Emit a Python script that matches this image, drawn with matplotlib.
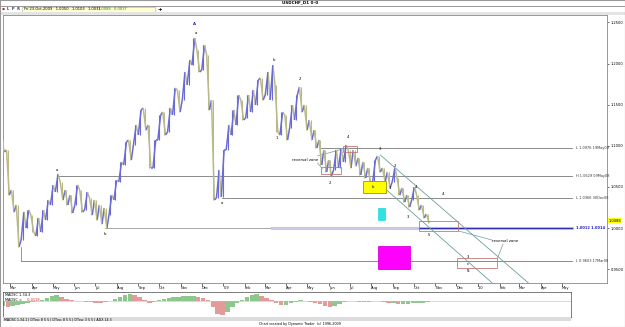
import matplotlib
matplotlib.use('Agg')
import matplotlib.pyplot as plt
import matplotlib.dates as mdates
from matplotlib.collections import LineCollection
from matplotlib.patches import Rectangle
import pandas as pd

# weekly price swings (USDCHF daily, shown as weekly swings)
weeks = pd.date_range('2008-02-22', '2009-10-23', freq='W-FRI')
week_high = [1.1071, 1.0949, 1.0462, 1.0280, 1.0195, 1.0219, 1.0158, 1.0122, 1.0219, 1.0341,
             1.0523, 1.0657, 1.0560, 1.0462, 1.0401, 1.0523, 1.0462, 1.0438, 1.0365, 1.0341,
             1.0280, 1.0243, 1.0401, 1.0584, 1.0803, 1.1046, 1.1071, 1.1253, 1.1436, 1.1460,
             1.1253, 1.1071, 1.1375, 1.1411, 1.1460, 1.1703, 1.1679, 1.1898, 1.2044, 1.2311,
             1.2165, 1.2226, 1.2105, 1.1557, 1.0706, 1.0949, 1.1253, 1.1436, 1.1618, 1.1557,
             1.1618, 1.1679, 1.1800, 1.1825, 1.1898, 1.1983, 1.1740, 1.1411, 1.1375, 1.1496,
             1.1618, 1.1715, 1.1496, 1.1314, 1.1192, 1.1071, 1.0949, 1.0827, 1.0949, 1.0973,
             1.1010, 1.0949, 1.0949, 1.0852, 1.0803, 1.0730, 1.0827, 1.0876, 1.0730, 1.0681,
             1.0730, 1.0608, 1.0487, 1.0401, 1.0499, 1.0401, 1.0280, 1.0170]
week_low = [1.0925, 1.0401, 1.0195, 0.9769, 0.9854, 1.0000, 0.9951, 0.9903, 0.9951, 1.0097,
            1.0280, 1.0438, 1.0341, 1.0280, 1.0182, 1.0280, 1.0195, 1.0219, 1.0158, 1.0097,
            1.0049, 1.0000, 1.0158, 1.0341, 1.0560, 1.0766, 1.0827, 1.1010, 1.1131, 1.1192,
            1.0730, 1.0730, 1.1071, 1.1131, 1.1168, 1.1375, 1.1411, 1.1557, 1.1740, 1.1983,
            1.1898, 1.1922, 1.1436, 1.0341, 1.0365, 1.0377, 1.0949, 1.1131, 1.1253, 1.1314,
            1.1338, 1.1411, 1.1496, 1.1557, 1.1618, 1.1557, 1.1168, 1.1131, 1.1071, 1.1217,
            1.1314, 1.1411, 1.1192, 1.1071, 1.0973, 1.0766, 1.0681, 1.0633, 1.0706, 1.0730,
            1.0803, 1.0730, 1.0754, 1.0645, 1.0608, 1.0560, 1.0560, 1.0681, 1.0560, 1.0487,
            1.0560, 1.0401, 1.0316, 1.0255, 1.0341, 1.0219, 1.0122, 1.0061]
week_dir = ("dddduuduuu" "uudddududd" "dduuuuduud" "duuduuduuu" "dudduuuuud"
            "uuuduududu" "uddddddduu" "uddddduddd" "uddduddd")

# MADSC oscillator, weekly
madsc = [-0.010, -0.012, -0.010, -0.008, -0.006, -0.004, -0.002, 0.001, 0.002, 0.006,
         0.010, 0.012, 0.008, 0.004, 0.002, 0.001, 0.001, -0.001, -0.002, -0.003,
         -0.004, -0.002, 0.001, 0.004, 0.008, 0.012, 0.014, 0.012, 0.008, 0.002,
         -0.004, -0.002, 0.002, 0.004, 0.006, 0.008, 0.008, 0.010, 0.010, 0.010,
         0.008, 0.006, 0.002, -0.012, -0.026, -0.028, -0.022, -0.012, -0.004, 0.002,
         0.008, 0.012, 0.014, 0.010, 0.006, 0.002, -0.004, -0.008, -0.008, -0.004,
         -0.002, 0.002, 0.001, -0.002, -0.004, -0.006, -0.010, -0.012, -0.010, -0.006,
         -0.002, 0.000, 0.000, -0.001, -0.002, -0.002, 0.001, 0.001, -0.002, -0.004,
         -0.004, -0.006, -0.006, -0.006, -0.004, -0.004, -0.003, -0.002]

# horizontal levels: start, price, label
levels = [('2009-05-20', 1.0976, 'L 1.0976 19May09'),
          ('2008-05-09', 1.0629, 'H 1.0629 09May08'),
          ('2008-12-30', 1.0366, 'L 1.0366 30Dec08'),
          ('2008-03-17', 0.9603, 'L 0.9603 17Mar08')]
level_end = '2010-05-16'
b_level = 1.0005
b_start, band_start, blue_start = '2008-07-15', '2009-03-12', '2009-10-08'

channel_upper = (['2009-08-14', '2010-03-21'], [1.0888, 0.9282])
channel_lower = (['2009-08-10', '2010-01-28'], [1.0560, 0.9282])

# target zones: start, end, low, high, fill, edge
zones = [('2009-05-21', '2009-06-19', 1.0657, 1.0742, 'none', '#c07878'),
         ('2009-06-21', '2009-07-11', 1.0925, 1.0998, 'none', '#c07878'),
         ('2009-07-20', '2009-08-22', 1.0426, 1.0572, '#ffff00', '#999900'),
         ('2009-08-11', '2009-08-20', 1.0097, 1.0243, '#33e0e0', '#33e0e0'),
         ('2009-08-11', '2009-09-25', 0.9501, 0.9781, '#ff00ff', '#dd00dd'),
         ('2009-10-08', '2009-12-04', 0.9964, 1.0085, 'none', '#c07878'),
         ('2009-12-02', '2010-01-28', 0.9513, 0.9635, 'none', '#c07878')]

wave_labels = [('2008-11-21', 1.2482, 'A', '#2020a0'), ('2008-11-22', 1.2372, 'a', 'k'),
               ('2008-05-08', 1.0706, 'a', 'k'), ('2008-07-15', 0.9927, 'b', 'k'),
               ('2008-12-30', 1.0304, 'a', 'k'), ('2009-03-14', 1.2044, 'b', 'k'),
               ('2009-03-19', 1.1095, '1', 'k'), ('2009-04-21', 1.1813, '2', 'k'),
               ('2009-06-03', 1.0547, '2', 'k'), ('2009-06-29', 1.1107, '4', 'k'),
               ('2009-08-14', 1.0961, '3', 'k'), ('2009-08-04', 1.0499, 'b', 'k'),
               ('2009-08-28', 1.0487, '1', 'k'), ('2009-09-04', 1.0754, '2', 'k'),
               ('2009-09-23', 1.0134, '3', 'k'), ('2009-10-04', 1.0499, '4', 'k'),
               ('2009-10-23', 0.9915, '5', 'k'), ('2009-11-12', 1.0414, '4', 'k'),
               ('2009-12-18', 0.9647, '3', 'k'), ('2009-12-18', 0.9562, 'c', 'k'),
               ('2009-12-18', 0.9477, '5', '#2020a0')]

rev_texts = [('2009-04-28', 1.0827), ('2010-02-09', 0.9842)]
rev_lines = [(['2009-05-16', '2009-06-21'], [1.0876, 1.0961]),
             (['2009-05-16', '2009-05-23'], [1.0791, 1.0718]),
             (['2009-12-04', '2010-01-21'], [0.9964, 0.9854]),
             (['2010-02-06', '2010-01-29'], [0.9805, 0.9635])]

yticks = [0.95, 1.00, 1.05, 1.10, 1.15, 1.20, 1.25]
last_close = 1.0088

BLUE = '#6a6ad8'
OLIVE = '#b9b98a'
d = mdates.date2num


def fx(x):
    return x / 625


def fy(y):
    return 1 - y / 327


fig = plt.figure(figsize=(6.25, 3.27), dpi=100)
fig.patch.set_facecolor('white')

# header
fig.add_artist(Rectangle((0, fy(5.5)), 1, 5.5 / 327, transform=fig.transFigure, fc='white', ec='#888888', lw=0.6))
fig.text(0.48, fy(2.8), 'USDCHF_D1 0-0', ha='center', va='center', fontsize=3, weight='bold')
fig.add_artist(Rectangle((fx(22), fy(12)), 133 / 625, 5 / 327, transform=fig.transFigure,
                         fc='#ffffd0', ec='#aaaaaa', lw=0.4))
fig.text(fx(2), fy(9.3), '\u25cf', color='#cc2222', fontsize=2.5, va='center')
fig.text(fx(7), fy(9.3), 'L  P  R', fontsize=2.6, va='center', weight='bold', color='#333366')
fig.text(fx(24), fy(9.3), 'Fri 23-Oct-2009   1.0050   1.0103   1.0031', fontsize=2.6, va='center')
fig.text(fx(98), fy(9.3), '1.0088   0.0037', fontsize=2.6, va='center', color='#228822')
fig.text(fx(157), fy(9.5), '+', fontsize=4, va='center', weight='bold')
fig.add_artist(Rectangle((0, fy(15)), 1, 3 / 327, transform=fig.transFigure, fc='#e4e4e4', ec='none'))

# main price panel
ax = fig.add_axes([fx(3), fy(283), 604 / 625, 268 / 327])
ax.set_xlim(d(pd.Timestamp('2008-02-20')), d(pd.Timestamp('2010-07-05')))
ax.set_ylim(0.9331, 1.2591)

# zigzag path through weekly highs/lows
px, py = [], []
for t, hi, lo, dr in zip(weeks, week_high, week_low, week_dir):
    t0 = d(t - pd.Timedelta(days=4))
    t1 = d(t)
    px += [t0, t1]
    py += [lo, hi] if dr == 'u' else [hi, lo]
segs = [[(px[i], py[i]), (px[i + 1], py[i + 1])] for i in range(len(px) - 1)]
cols = [BLUE if py[i + 1] >= py[i] else OLIVE for i in range(len(px) - 1)]
ax.add_collection(LineCollection(segs, colors=cols, linewidths=1.1, zorder=3))
mid = [d(t - pd.Timedelta(days=2)) for t in weeks]
ax.vlines(mid, week_low, week_high, colors=[BLUE if c == 'u' else OLIVE for c in week_dir],
          linewidth=0.8, zorder=3)

end = d(pd.Timestamp(level_end))
for start, price, lab in levels:
    ax.plot([d(pd.Timestamp(start)), end], [price, price], color='#777777', lw=0.6, zorder=2)
    ax.text(end + 5, price, lab, fontsize=2.5, va='center', ha='left', color='#333333')
ax.plot([d(pd.Timestamp('2008-03-17'))] * 2, [week_low[3], levels[3][1]], color='#888888', lw=0.6)
ax.plot([d(pd.Timestamp(b_start)), end], [b_level, b_level], color='#999999', lw=0.6, zorder=2)
ax.plot([d(pd.Timestamp(band_start)), end], [b_level, b_level], color='#c8c8e8', lw=2.2, zorder=2)
ax.plot([d(pd.Timestamp(blue_start)), end], [b_level, b_level], color='#3030b0', lw=0.9, zorder=2)
ax.text(end + 5, b_level, '1.0012 1.0014', fontsize=2.6, va='center', ha='left', color='#2020c0',
        weight='bold')

for xs, ys in [channel_upper, channel_lower]:
    ax.plot([d(pd.Timestamp(v)) for v in xs], ys, color='#6a9e9e', lw=0.6, zorder=2)

for s, e, lo, hi, fc, ec in zones:
    x0 = d(pd.Timestamp(s))
    ax.add_patch(Rectangle((x0, lo), d(pd.Timestamp(e)) - x0, hi - lo, fc=fc, ec=ec, lw=0.6, zorder=4))

for t, p, lab, c in wave_labels:
    ax.text(d(pd.Timestamp(t)), p, lab, fontsize=2.8, ha='center', va='center', color=c,
            weight='bold' if c != 'k' else 'normal', zorder=5)

for t, p in rev_texts:
    ax.text(d(pd.Timestamp(t)), p, 'reversal zone', fontsize=2.8, ha='center', va='center', zorder=5)
for xs, ys in rev_lines:
    ax.plot([d(pd.Timestamp(v)) for v in xs], ys, color='#6a9e9e', lw=0.5, zorder=2)

# axes styling
for sp in ax.spines.values():
    sp.set_color('#888888')
    sp.set_linewidth(0.6)
ax.yaxis.tick_right()
ax.set_yticks(yticks)
ax.set_yticklabels(['%.4f' % v for v in yticks])
ax.tick_params(axis='y', labelsize=2.6, length=1.5, width=0.4, pad=1)
months = pd.date_range('2008-03-01', '2010-05-01', freq='MS')
ax.set_xticks([d(m) for m in months])
ax.set_xticklabels([("'" + m.strftime('%y')) if m.month == 1 else m.strftime('%b') for m in months])
ax.tick_params(axis='x', labelsize=2.6, length=2, width=0.4, pad=0.5)
for lab in ax.get_xticklabels():
    lab.set_horizontalalignment('left')
ax.text(1.002, last_close, '1.0088', transform=ax.get_yaxis_transform(), fontsize=2.6, va='center',
        ha='left', bbox=dict(boxstyle='square,pad=0.1', fc='#ffff00', ec='none'))

# indicator panel
ax2 = fig.add_axes([fx(3), fy(317), 568 / 625, 25 / 327])
ax2.set_xlim(d(pd.Timestamp('2008-02-20')), d(pd.Timestamp('2010-05-15')))
ax2.set_ylim(-0.032, 0.018)
bar_cols = ['#e39a9a' if i > 0 and madsc[i] < madsc[i - 1] else '#8cc88c' for i in range(len(madsc))]
ax2.bar([d(t - pd.Timedelta(days=2)) for t in weeks], madsc, width=6.5, color=bar_cols, lw=0)
ax2.axhline(0, color='#bbbbbb', lw=0.4)
ax2.set_xticks([])
ax2.set_yticks([])
for sp in ax2.spines.values():
    sp.set_color('#666666')
    sp.set_linewidth(0.6)
ax2.text(0.003, 0.86, 'MADSC 1.34.3', transform=ax2.transAxes, fontsize=2.5, va='center')
ax2.text(0.003, 0.68, 'MADSC = ', transform=ax2.transAxes, fontsize=2.5, va='center')
ax2.text(0.042, 0.68, '-0.0118', transform=ax2.transAxes, fontsize=2.5, va='center', color='#cc2222')

# bottom tab strip and credit
fig.add_artist(Rectangle((fx(3), fy(321)), 568 / 625, 4 / 327, transform=fig.transFigure,
                         fc='#dcdcdc', ec='none'))
fig.text(fx(4), fy(319.2), 'MADSC 1.34.1 | DTosc 8 5 5 | DTosc 8 5 5 | DTosc 3 5 5 | ADX 14 3',
         fontsize=2.3, va='center')
fig.text(0.48, fy(324), 'Chart created by Dynamic Trader  (c) 1996-2009', fontsize=2.4,
         ha='center', va='center')
fig.add_artist(Rectangle((0, 0), 1, 1, transform=fig.transFigure, fc='none', ec='#999999', lw=0.8))

fig.savefig('out.png', dpi=100)
